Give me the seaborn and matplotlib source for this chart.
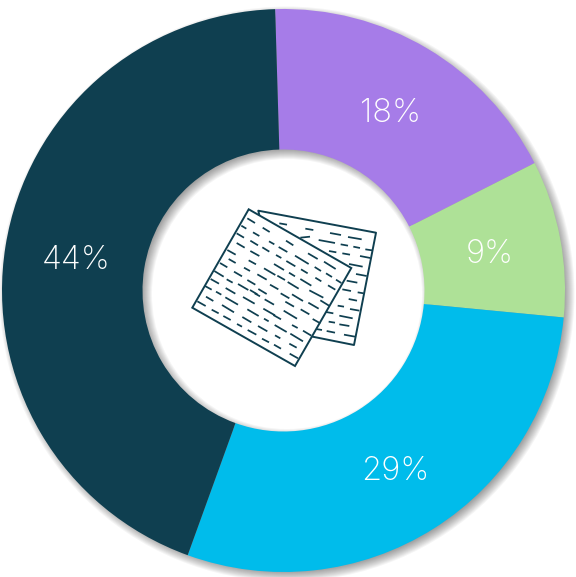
import matplotlib
matplotlib.use("Agg")
import matplotlib.pyplot as plt
import seaborn as sns
from matplotlib.patches import Wedge, Polygon
from matplotlib.lines import Line2D
from matplotlib.transforms import ScaledTranslation

# Share of each segment, clockwise from the top
shares = [18, 9, 29, 44]
segment_colors = ["#A67CE8", "#AEE197", "#00BCEB", "#0F3F50"]
ink = "#0F3F50"

# Document icon outlines, given in canvas pixels
front_sheet = [(248.7, 209.3), (351.3, 268.0), (295.0, 366.0), (192.3, 307.7)]
back_sheet = [(259.3, 215.0), (258.3, 210.7), (376.0, 232.7), (354.0, 345.0), (312.7, 336.7)]

# Text strokes on the sheets: x0, y0, x1, y1 on a 3x grid starting at (170, 190)
front_strokes = [
    (232, 85, 255, 99), (278, 113, 299, 126), (214, 107, 229, 116), (249, 127, 268, 138),
    (200, 130, 222, 143), (241, 152, 264, 166), (277, 172, 298, 185), (297, 154, 313, 163),
    (348, 152, 370, 166), (326, 171, 352, 186), (200, 159, 224, 173), (172, 180, 197, 194),
    (241, 183, 268, 198), (318, 195, 334, 204), (375, 197, 416, 222), (414, 190, 443, 207),
    (349, 213, 376, 229), (462, 215, 497, 237), (176, 207, 197, 219), (236, 211, 258, 223),
    (312, 222, 342, 240), (150, 219, 172, 232), (222, 233, 240, 243), (282, 235, 316, 255),
    (393, 238, 413, 250), (434, 231, 453, 243), (468, 250, 486, 261), (357, 248, 375, 259),
    (192, 245, 216, 259), (262, 253, 290, 269), (133, 243, 161, 260), (322, 257, 345, 270),
    (391, 267, 424, 287), (436, 263, 454, 274), (498, 269, 514, 279), (232, 270, 256, 284),
    (170, 268, 188, 278), (300, 284, 325, 298), (353, 276, 386, 296), (122, 267, 147, 281),
    (474, 286, 496, 299), (204, 282, 235, 300), (265, 297, 290, 312), (418, 301, 460, 323),
    (105, 288, 125, 299), (138, 305, 154, 314), (167, 294, 196, 311), (332, 310, 358, 325),
    (366, 313, 399, 333), (451, 331, 477, 347), (240, 300, 262, 313), (108, 320, 130, 333),
    (166, 322, 204, 344), (219, 321, 254, 341), (254, 310, 270, 319), (284, 328, 312, 344),
    (415, 338, 446, 356), (82, 334, 107, 348), (156, 345, 192, 367), (346, 335, 372, 350),
    (232, 358, 266, 378), (280, 356, 315, 376), (392, 358, 418, 373), (125, 359, 146, 370),
    (160, 378, 182, 390), (341, 362, 381, 386), (217, 381, 244, 397), (282, 386, 296, 394),
    (310, 375, 333, 388), (428, 387, 451, 400), (366, 405, 383, 414), (314, 405, 350, 426),
    (201, 402, 216, 410), (264, 408, 292, 424), (399, 422, 424, 437), (233, 420, 259, 434),
    (361, 431, 399, 454), (315, 436, 331, 445), (276, 446, 297, 457), (312, 464, 333, 476),
    (358, 461, 380, 473), (359, 491, 384, 505),
]
back_strokes = [
    (328, 100, 351, 104), (406, 116, 430, 120), (480, 129, 513, 135), (534, 141, 575, 148),
    (391, 143, 420, 140), (446, 150, 495, 159), (512, 163, 534, 167), (550, 170, 570, 174),
    (586, 178, 606, 181), (477, 183, 499, 187), (517, 190, 540, 194), (570, 198, 601, 204),
    (537, 222, 578, 230), (558, 252, 590, 258), (530, 272, 562, 278), (517, 298, 543, 303),
    (563, 307, 581, 310), (536, 327, 561, 332), (503, 347, 522, 350), (540, 357, 568, 362),
    (468, 366, 490, 370), (508, 377, 548, 385), (476, 395, 495, 398), (508, 403, 538, 408),
    (438, 417, 456, 420), (470, 423, 495, 428), (522, 434, 555, 440),
]

sns.set_theme(style="white")
plt.rcParams["font.family"] = ["Inter", "DejaVu Sans"]

CANVAS_H = 577
CX, CY = 283.5, CANVAS_H - 290.5
R_OUT, R_IN = 281.5, 141.0


def to_canvas(x, y):
    return x, CANVAS_H - y


fig = plt.figure(figsize=(5.76, 5.77), dpi=100, facecolor="white")
ax = fig.add_axes([0, 0, 1, 1])

# Soft drop shadow under the ring, built from stacked translucent rings
SPREAD = 12
for k in range(SPREAD):
    grow = SPREAD / 2 - k
    outer = R_OUT + grow
    inner = R_IN - grow
    ax.add_patch(Wedge((CX + 3.5, CY - 3.5), outer, 0, 360, width=outer - inner,
                       facecolor="black", edgecolor="none", alpha=0.04, zorder=1))

wedges, _, pct_labels = ax.pie(
    shares,
    colors=sns.color_palette(segment_colors),
    startangle=91.7,
    counterclock=False,
    center=(CX, CY),
    radius=R_OUT,
    wedgeprops={"width": R_OUT - R_IN, "linewidth": 0, "zorder": 2},
    autopct=lambda p: f"{p:.0f}%",
    pctdistance=0.746,
    textprops={"color": "white", "fontsize": 23.5, "fontweight": "light", "zorder": 3},
)

ax.set_xlim(0, 576)
ax.set_ylim(0, CANVAS_H)
ax.set_aspect("equal")
ax.axis("off")

# Nudge the percentages down so their digits sit on the band's centre line
nudge = ScaledTranslation(0, -2.5 / 72, fig.dpi_scale_trans)
for label in pct_labels:
    label.set_transform(label.get_transform() + nudge)


def scaled(stroke):
    x0, y0, x1, y1 = stroke
    return [170 + x0 / 3, 170 + x1 / 3], [CANVAS_H - (190 + y0 / 3), CANVAS_H - (190 + y1 / 3)]


for stroke in back_strokes + front_strokes:
    xs, ys = scaled(stroke)
    ax.add_line(Line2D(xs, ys, color=ink, lw=1.25, solid_capstyle="butt", zorder=5))

back_xy = [to_canvas(*p) for p in back_sheet]
ax.add_line(Line2D(*zip(*back_xy), color=ink, lw=1.4, zorder=5))
ax.add_patch(Polygon([to_canvas(*p) for p in front_sheet], closed=True, fill=False,
                     edgecolor=ink, lw=1.4, zorder=6))

fig.savefig("out.png", dpi=100, facecolor="white")
